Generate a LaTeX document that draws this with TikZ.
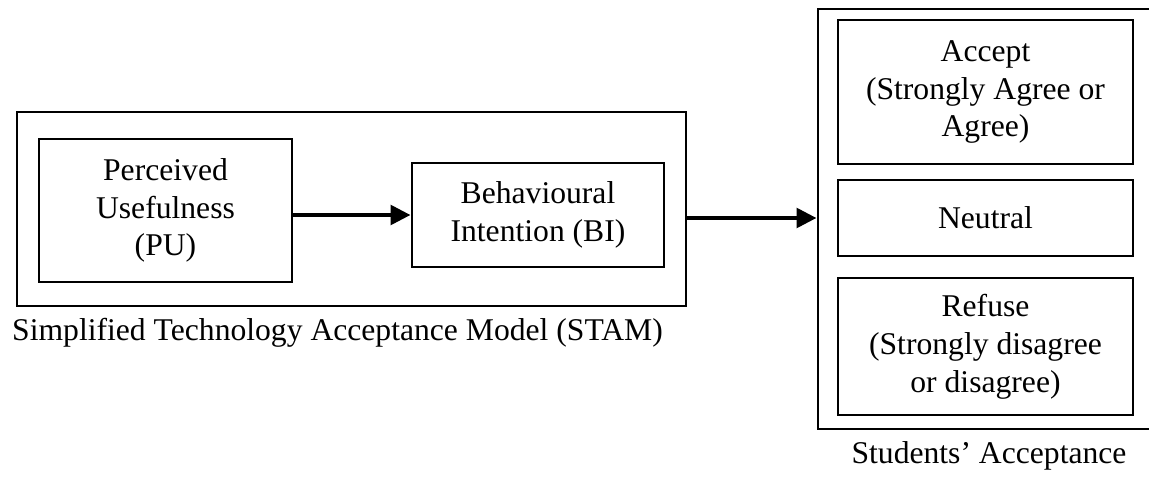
\documentclass[tikz,border=0pt]{standalone}
\usepackage{fontspec}
\setmainfont{Liberation Serif}
\usetikzlibrary{arrows.meta}

\tikzset{
  box/.style={draw, line width=1.5pt, align=center, inner sep=0pt},
  flow/.style={line width=2.8pt, -{Triangle[length=0.40cm,width=0.38cm]}}
}

\begin{document}
\begin{tikzpicture}[font=\fontsize{18}{21.5}\selectfont]
\useasboundingbox (0,0) rectangle (22.98,9.52);
\clip (0,0) rectangle (22.98,9.52);

% left model
\draw (7.03,5.34) node[box, minimum width=13.38cm, minimum height=3.88cm] (stam) {};
\draw (3.31,5.31) node[box, minimum width=5.06cm, minimum height=2.86cm] (pu) {Perceived\\Usefulness\\(PU)};
\draw (10.76,5.22) node[box, minimum width=5.04cm, minimum height=2.08cm] (bi) {Behavioural\\Intention (BI)};
\draw (6.75,2.72) node[anchor=base] (stamlab) {Simplified Technology Acceptance Model (STAM)};

% right outcomes
\draw (20.18,5.14) node[box, minimum width=7.64cm, minimum height=8.40cm] (sa) {};
\draw (19.71,7.68) node[box, minimum width=5.90cm, minimum height=2.88cm] (accept) {Accept\\(Strongly Agree or\\Agree)};
\draw (19.71,5.16) node[box, minimum width=5.90cm, minimum height=1.52cm] (neutral) {Neutral};
\draw (19.71,2.59) node[box, minimum width=5.90cm, minimum height=2.74cm] (refuse) {Refuse\\(Strongly disagree\\or disagree)};
\draw (19.78,0.26) node[anchor=base] (salab) {Students’ Acceptance};

% arrows
\draw[flow] (pu.east |- bi.west) -- (bi.west);
\draw[flow] (stam.east |- neutral) -- (sa.west |- neutral);

\end{tikzpicture}
\end{document}
